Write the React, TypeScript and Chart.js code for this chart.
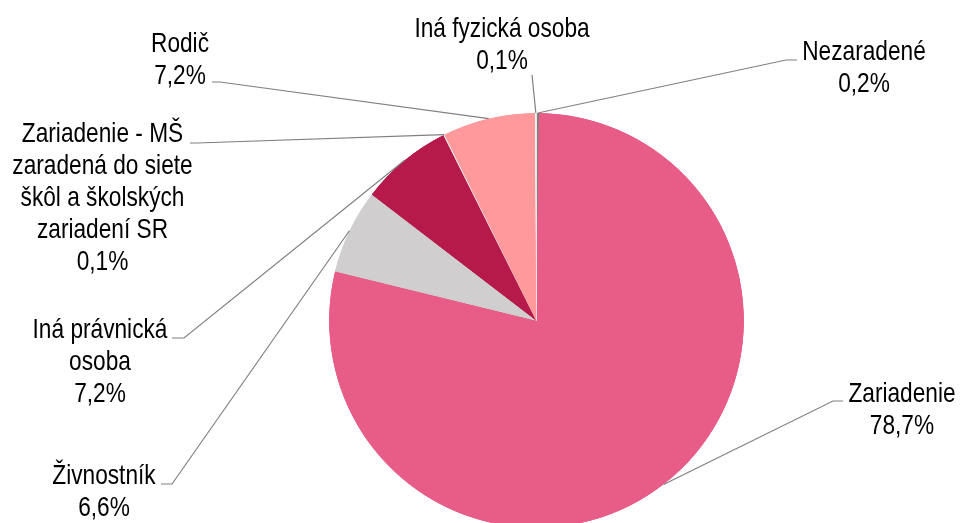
import React, { useEffect, useRef } from "react";
import { Chart, registerables } from "chart.js";

Chart.register(...registerables);

const categories = [
  "Nezaradené",
  "Zariadenie",
  "Živnostník",
  "Iná právnická osoba",
  "Zariadenie - MŠ zaradená do siete škôl a školských zariadení SR",
  "Rodič",
  "Iná fyzická osoba",
];
const values = [0.2, 78.7, 6.6, 7.2, 0.1, 7.2, 0.1];
const categoryLines = [
  ["Nezaradené"],
  ["Zariadenie"],
  ["Živnostník"],
  ["Iná právnická", "osoba"],
  ["Zariadenie - MŠ", "zaradená do siete", "škôl a školských", "zariadení SR"],
  ["Rodič"],
  ["Iná fyzická osoba"],
];
const colors = ["#7F7F7F", "#E85D88", "#D0CECE", "#B51A4A", "#E4E2E2", "#FF999C", "#F2F2F2"];

// label layout: centre x, first baseline y, leader anchor points (text side)
const labelLayout = [
  { cx: 864, y: 60, leader: [[797, 60], [786, 60]] },
  { cx: 902, y: 402, leader: [[843, 401], [833, 401]] },
  { cx: 104, y: 484, leader: [[161, 484], [172, 484]] },
  { cx: 100, y: 338, leader: [[172, 338], [184, 338]] },
  { cx: 102.5, y: 142, leader: [[190, 143], [197, 143]] },
  { cx: 180, y: 52, leader: [[212, 82], [220, 82]] },
  { cx: 502, y: 37, leader: [[532, 75]] },
];

const fmt = (v: number) => v.toFixed(1).replace(".", ",") + "%";

const labelPlugin = {
  id: "pieLabels",
  afterDraw(chart: any) {
    const ctx = chart.ctx;
    const meta = chart.getDatasetMeta(0);
    ctx.save();
    ctx.strokeStyle = "#808080";
    ctx.lineWidth = 1.2;
    meta.data.forEach((arc: any, i: number) => {
      const p = arc.getProps(["x", "y", "startAngle", "endAngle", "outerRadius"], true);
      const mid = (p.startAngle + p.endAngle) / 2;
      const ex = p.x + Math.cos(mid) * p.outerRadius;
      const ey = p.y + Math.sin(mid) * p.outerRadius;
      const lay = labelLayout[i];
      ctx.beginPath();
      lay.leader.forEach((pt: number[], k: number) => {
        if (k === 0) ctx.moveTo(pt[0], pt[1]);
        else ctx.lineTo(pt[0], pt[1]);
      });
      ctx.lineTo(ex, ey);
      ctx.stroke();
    });
    ctx.fillStyle = "#000000";
    ctx.font = '28px "Liberation Sans", Arial, sans-serif';
    ctx.textAlign = "center";
    ctx.textBaseline = "alphabetic";
    meta.data.forEach((_: any, i: number) => {
      const lay = labelLayout[i];
      const lines = [...categoryLines[i], fmt(values[i])];
      lines.forEach((line: string, k: number) => {
        ctx.save();
        ctx.translate(lay.cx, lay.y + k * 32);
        ctx.scale(0.81, 1);
        ctx.fillText(line, 0, 0);
        ctx.restore();
      });
    });
    ctx.restore();
  },
};

export default function App() {
  const ref = useRef<HTMLCanvasElement | null>(null);
  useEffect(() => {
    document.body.style.margin = "0";
    document.body.style.overflow = "hidden";
    if (!ref.current) return;
    const chart = new Chart(ref.current, {
      type: "pie",
      data: {
        labels: categories,
        datasets: [
          {
            data: values,
            backgroundColor: colors,
            borderColor: colors,
            borderWidth: 0.6,
            borderAlign: "inner",
            hoverOffset: 0,
          },
        ],
      },
      options: {
        animation: false,
        responsive: false,
        devicePixelRatio: 1,
        layout: { padding: { left: 329, right: 216, top: 113, bottom: 32 } },
        plugins: {
          legend: { display: false },
          tooltip: { enabled: false },
        },
      },
      plugins: [labelPlugin],
    });
    return () => chart.destroy();
  }, []);
  return (
    <div style={{ position: "fixed", left: 0, top: 0, width: 960, height: 523, overflow: "hidden", background: "#fff" }}>
      <canvas ref={ref} width={960} height={560} style={{ display: "block" }} />
    </div>
  );
}
